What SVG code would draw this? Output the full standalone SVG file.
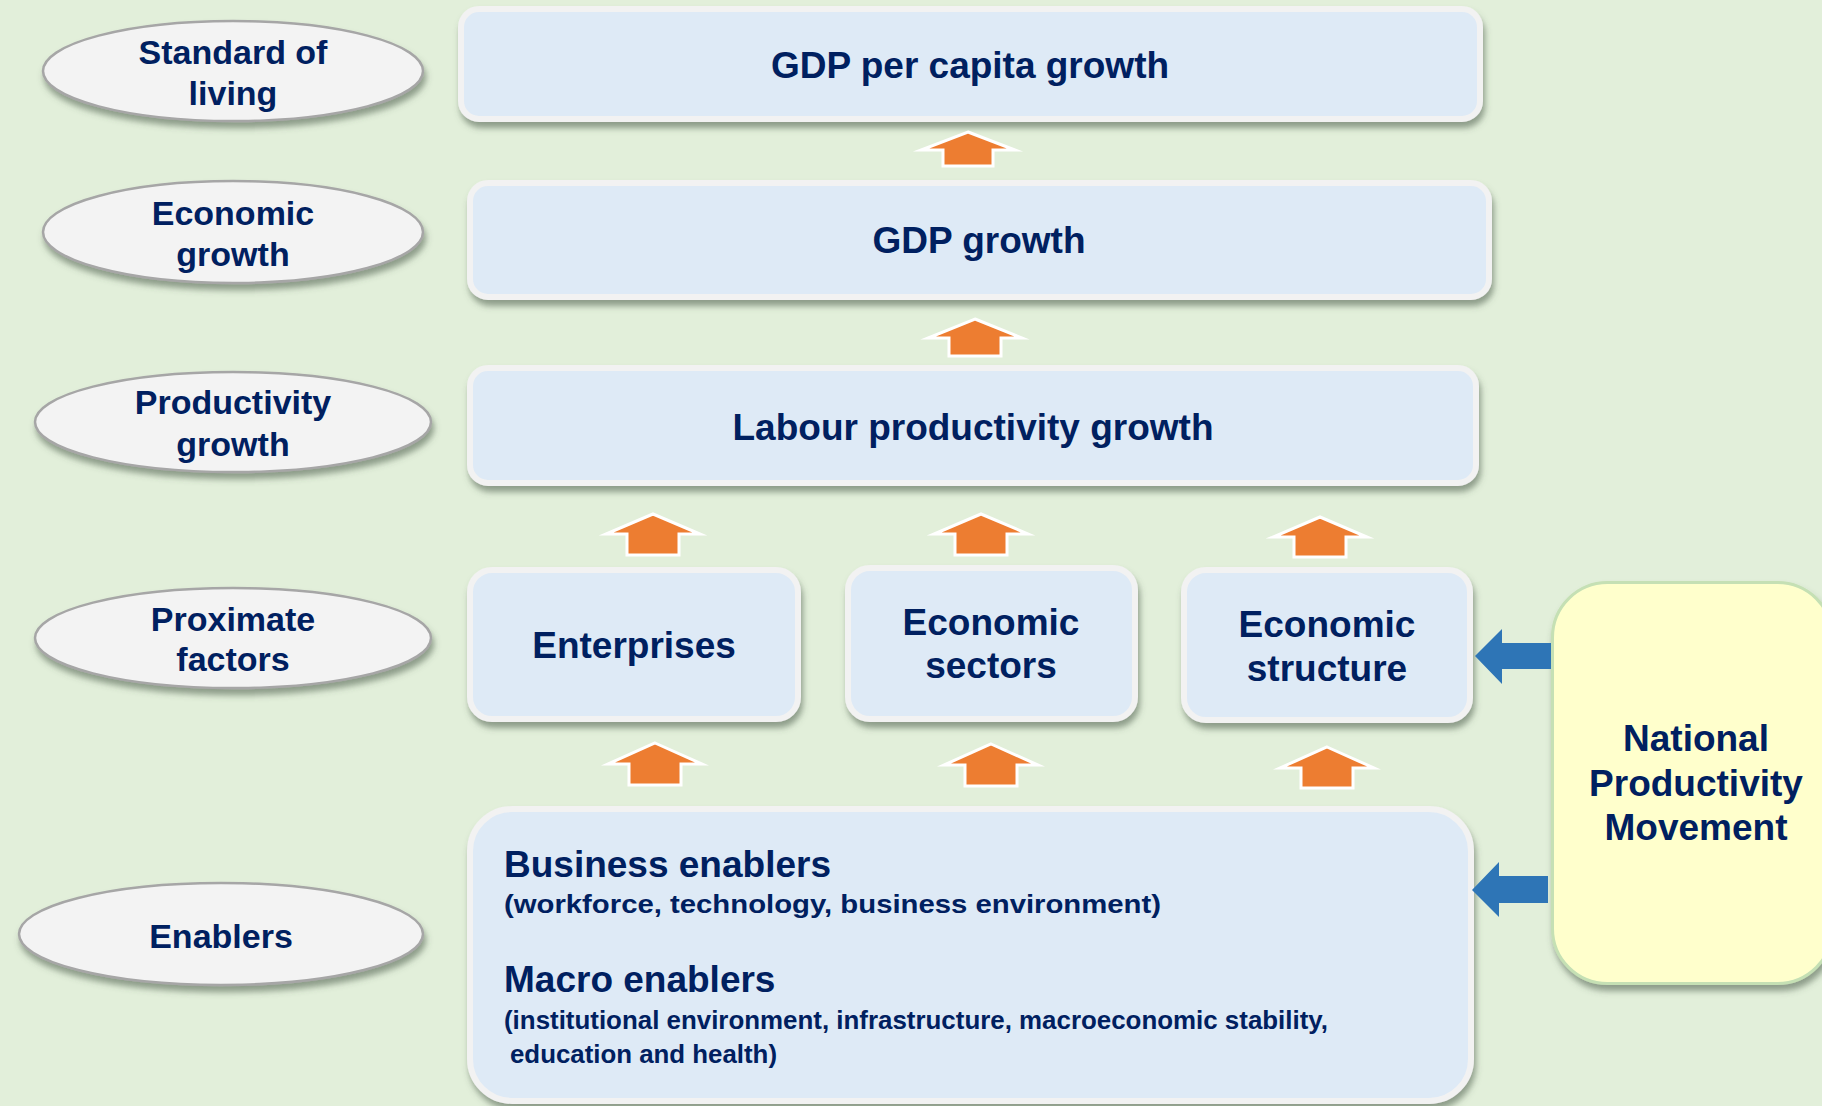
<svg xmlns="http://www.w3.org/2000/svg" width="1822" height="1106" viewBox="0 0 1822 1106">
<defs>
<filter id="sh" x="-10%" y="-10%" width="125%" height="135%">
<feDropShadow dx="2" dy="6" stdDeviation="3" flood-color="#4a5a4a" flood-opacity="0.55"/>
</filter>
<style>
.bg{fill:#E2EFDA}
.box{fill:#DEEAF6;stroke:#F2F2F2;stroke-width:6;filter:url(#sh)}
.ell{fill:#F3F3F3;stroke:#A6A6A6;stroke-width:2.5;filter:url(#sh)}
.npm{fill:#FFFFCC;stroke:#C5E0B4;stroke-width:3;filter:url(#sh)}
.t{font-family:"Liberation Sans",Arial,sans-serif;font-weight:bold;fill:#002060;text-anchor:middle}
.e{font-size:34px}
.b{font-size:37px}
.l{font-family:"Liberation Sans",Arial,sans-serif;font-weight:bold;fill:#002060;font-size:37px}
.s{font-family:"Liberation Sans",Arial,sans-serif;font-weight:bold;fill:#002060;font-size:26px}
.up{fill:#ED7D31;stroke:#FFFFFF;stroke-width:3;stroke-linejoin:miter;stroke-miterlimit:12}
.lt{fill:#2E75B6}
</style>
</defs>
<rect class="bg" x="0" y="0" width="1822" height="1106"/>

<g id="ell-standard">
<ellipse class="ell" cx="233" cy="71" rx="190" ry="50"/>
<text class="t e" x="233" y="64">Standard of</text>
<text class="t e" x="233" y="105">living</text>
</g>
<g id="ell-economic">
<ellipse class="ell" cx="233" cy="232" rx="190" ry="51"/>
<text class="t e" x="233" y="225">Economic</text>
<text class="t e" x="233" y="266">growth</text>
</g>
<g id="ell-productivity">
<ellipse class="ell" cx="233" cy="422" rx="198" ry="50"/>
<text class="t e" x="233" y="414">Productivity</text>
<text class="t e" x="233" y="456">growth</text>
</g>
<g id="ell-proximate">
<ellipse class="ell" cx="233" cy="638" rx="198" ry="50"/>
<text class="t e" x="233" y="631">Proximate</text>
<text class="t e" x="233" y="671">factors</text>
</g>
<g id="ell-enablers">
<ellipse class="ell" cx="221" cy="934" rx="202" ry="51"/>
<text class="t e" x="221" y="948">Enablers</text>
</g>

<g id="gdp-per-capita">
<rect class="box" x="461" y="9" width="1019" height="110" rx="18"/>
<text class="t b" x="970" y="78">GDP per capita growth</text>
</g>
<g id="gdp-growth">
<rect class="box" x="470" y="183" width="1019" height="114" rx="18"/>
<text class="t b" x="979" y="253">GDP growth</text>
</g>
<g id="labour-productivity">
<rect class="box" x="470" y="368" width="1006" height="115" rx="18"/>
<text class="t b" x="973" y="440">Labour productivity growth</text>
</g>
<g id="enterprises">
<rect class="box" x="470" y="570" width="328" height="149" rx="22"/>
<text class="t b" x="634" y="658">Enterprises</text>
</g>
<g id="economic-sectors">
<rect class="box" x="848" y="568" width="287" height="151" rx="22"/>
<text class="t b" x="991" y="635">Economic</text>
<text class="t b" x="991" y="678">sectors</text>
</g>
<g id="economic-structure">
<rect class="box" x="1184" y="570" width="286" height="150" rx="22"/>
<text class="t b" x="1327" y="637">Economic</text>
<text class="t b" x="1327" y="681">structure</text>
</g>
<g id="enablers-box">
<rect class="box" x="470" y="809" width="1001" height="292" rx="42"/>
<text class="l" x="504" y="877">Business enablers</text>
<text class="s" x="504" y="913" textLength="657" lengthAdjust="spacingAndGlyphs">(workforce, technology, business environment)</text>
<text class="l" x="504" y="992">Macro enablers</text>
<text class="s" x="504" y="1029" textLength="824" lengthAdjust="spacingAndGlyphs">(institutional environment, infrastructure, macroeconomic stability,</text>
<text class="s" x="510" y="1063" textLength="267" lengthAdjust="spacingAndGlyphs">education and health)</text>
</g>
<g id="national-productivity-movement">
<rect class="npm" x="1552.5" y="582.5" width="280" height="401" rx="55"/>
<text class="t b" x="1696" y="751">National</text>
<text class="t b" x="1696" y="796">Productivity</text>
<text class="t b" x="1696" y="840">Movement</text>
</g>

<g id="connectors">
<polygon class="up" points="968,132 1015,150 993,150 993,166 943,166 943,150 921,150"/>
<polygon class="up" points="975,319 1022,338 1001,338 1001,356 949,356 949,338 928,338"/>
<polygon class="up" points="653,514 700,534 679,534 679,555 627,555 627,534 606,534"/>
<polygon class="up" points="981,514 1028,534 1007,534 1007,555 955,555 955,534 934,534"/>
<polygon class="up" points="1320,517 1367,537 1346,537 1346,557 1294,557 1294,537 1273,537"/>
<polygon class="up" points="655,743 702,764 681,764 681,785 629,785 629,764 608,764"/>
<polygon class="up" points="991,744 1038,765 1017,765 1017,786 965,786 965,765 944,765"/>
<polygon class="up" points="1327,747 1374,768 1353,768 1353,788 1301,788 1301,768 1280,768"/>
<polygon class="lt" points="1475,656 1502,629 1502,643 1551,643 1551,669 1502,669 1502,684"/>
<polygon class="lt" points="1472,890 1499,862 1499,876 1548,876 1548,903 1499,903 1499,917"/>
</g>
</svg>
